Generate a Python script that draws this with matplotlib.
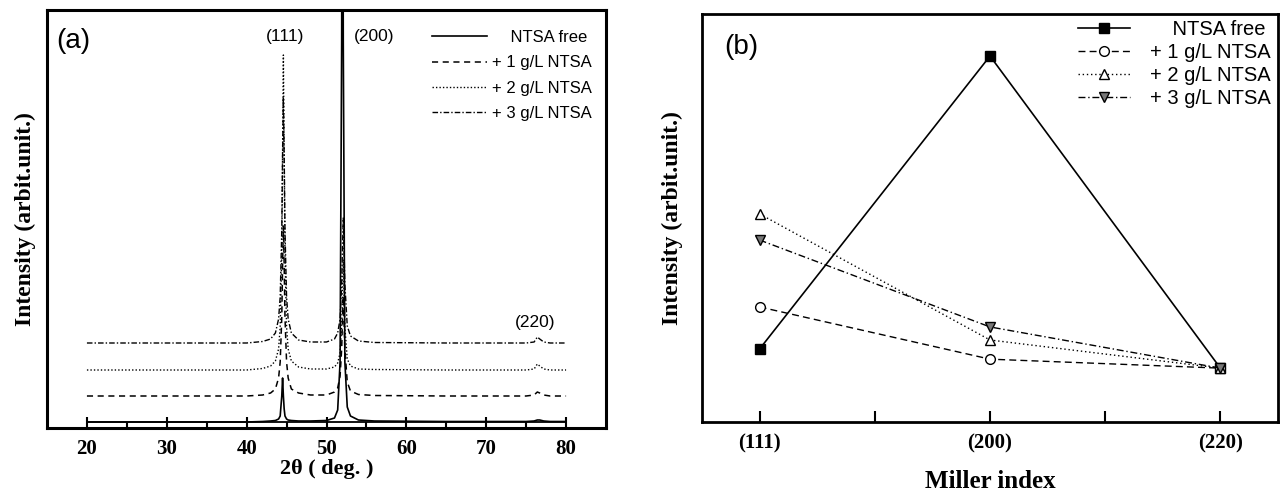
import matplotlib
matplotlib.use("Agg")
import matplotlib.pyplot as plt

# ---------------- data ----------------
two_theta = [20, 30, 40, 42, 43, 43.6, 44.0, 44.2, 44.4, 44.5, 44.6, 44.7, 44.8, 45.0,
             45.2, 45.6, 46.5, 48, 50, 51.0, 51.4, 51.7, 51.9, 52.0, 52.1, 52.3, 52.6,
             53.0, 54, 56, 65, 75, 76.0, 76.4, 76.7, 77.2, 78, 80]

int_free = [0, 0, 0, 0.5, 1, 1.5, 3, 6, 26, 44, 26, 13, 6, 3,
            2, 1.5, 1, 1, 1.5, 4, 12, 60, 380, 800, 380, 60, 15,
            6, 2, 1, 0.5, 0.5, 1, 2, 2, 1, 0.5, 0.5]

int_1g = [26, 26, 26, 27, 29, 33, 44, 60, 105, 156, 196, 156, 105, 60,
          44, 33, 29, 27, 27, 30, 34, 46, 73, 102, 126, 73, 40,
          31, 27.5, 26.5, 26, 26, 27, 30, 29, 27, 26, 26]

int_2g = [52, 52, 52, 53.5, 56, 61, 73, 95, 168, 270, 367, 270, 168, 95,
          73, 61, 55, 53, 53, 55, 59, 69, 95, 128, 162, 95, 63,
          56, 53, 52.5, 52, 52, 53, 58, 56, 53, 52, 52]

int_3g = [79, 79, 79, 80.5, 83, 89, 103, 125, 192, 267, 325, 267, 192, 125,
          103, 89, 82, 80, 80, 83, 89, 103, 138, 174, 204, 138, 96,
          86, 81, 79.5, 79, 79, 80, 85, 83, 80, 79, 79]

series_labels = ["NTSA free", "+ 1 g/L NTSA", "+ 2 g/L NTSA", "+ 3 g/L NTSA"]

peak_labels = ["(111)", "(200)", "(220)"]
peak_label_x = [44.75, 56.0, 76.1]
peak_label_y = [386, 386, 100]

miller = ["(111)", "(200)", "(220)"]
b_free = [17.9, 89.7, 13.2]
b_1g = [28.2, 15.4, 13.2]
b_2g = [51.0, 20.1, 13.2]
b_3g = [44.6, 23.3, 13.2]

# ---------------- figure ----------------
plt.rcParams['font.family'] = ['Liberation Sans', 'DejaVu Sans']
fig = plt.figure(figsize=(12.83, 4.96), dpi=100)

serif_bold = dict(family=['Liberation Serif', 'DejaVu Serif'], weight='bold')

# ----- panel (a) -----
rect_a = [47 / 1283, 1 - 428 / 496, (606 - 47) / 1283, (428 - 10) / 496]
frame = fig.add_axes(rect_a)
frame.set_xticks([])
frame.set_yticks([])
for s in frame.spines.values():
    s.set_linewidth(2.2)

ax = fig.add_axes(rect_a)
ax.patch.set_visible(False)
for k in ['top', 'left', 'right']:
    ax.spines[k].set_visible(False)
ax.spines['bottom'].set_position(('data', 0))
ax.spines['bottom'].set_bounds(20, 80)
ax.spines['bottom'].set_linewidth(1.3)

ax.plot(two_theta, int_free, color='black', lw=1.2, ls='-', label=series_labels[0])
ax.plot(two_theta, int_1g, color='black', lw=1.1, ls=(0, (4, 3)), label=series_labels[1])
ax.plot(two_theta, int_2g, color='black', lw=1.0, ls=(0, (1, 1.5)), label=series_labels[2])
ax.plot(two_theta, int_3g, color='black', lw=1.0, ls=(0, (4, 1.5, 1, 1.5)), label=series_labels[3])

ax.set_xlim(15, 85)
ax.set_ylim(-6, 412)
ax.set_yticks([])
ax.set_xticks(range(20, 81, 10))
ax.set_xticks(range(25, 80, 10), minor=True)
ax.tick_params(axis='x', which='major', direction='inout', length=7, width=1.5, pad=9)
ax.tick_params(axis='x', which='minor', direction='out', length=4, width=1.5)
for lab in ax.get_xticklabels():
    lab.set_fontfamily(['Liberation Serif', 'DejaVu Serif'])
    lab.set_fontweight('bold')
    lab.set_fontsize(15)

for t, x, y in zip(peak_labels, peak_label_x, peak_label_y):
    ax.text(x, y, t, ha='center', va='center', fontsize=12.5)

ax.text(0.017, 0.925, "(a)", transform=ax.transAxes, fontsize=20, ha='left', va='center')

frame.set_ylabel("Intensity (arbit.unit.)", fontsize=17, labelpad=8, **serif_bold)
ax.set_xlabel("2\u03b8 ( deg. )", fontsize=16, labelpad=0, **serif_bold)

handles, labels = ax.get_legend_handles_labels()
labels_a = ["    " + labels[0]] + labels[1:]
ax.legend(handles, labels_a, loc='upper right', bbox_to_anchor=(0.975, 0.952),
          frameon=False, fontsize=12, handlelength=3.3, handletextpad=0.3,
          labelspacing=0.62, borderpad=0, borderaxespad=0)

# ----- panel (b) -----
rect_b = [702 / 1283, 1 - 422 / 496, (1278 - 702) / 1283, (422 - 14) / 496]
bx = fig.add_axes(rect_b)
for s in bx.spines.values():
    s.set_linewidth(2.0)

xpos = list(range(len(miller)))
bx.plot(xpos, b_free, color='black', lw=1.2, ls='-', marker='s', ms=7,
        mfc='black', mec='black', label=series_labels[0])
bx.plot(xpos, b_1g, color='black', lw=1.0, ls=(0, (5, 3)), marker='o', ms=7,
        mfc='white', mec='black', label=series_labels[1])
bx.plot(xpos, b_2g, color='black', lw=1.0, ls=(0, (1, 2)), marker='^', ms=7,
        mfc='white', mec='black', label=series_labels[2])
bx.plot(xpos, b_3g, color='black', lw=1.0, ls=(0, (5, 2, 1, 2)), marker='v', ms=7,
        mfc='#777777', mec='black', label=series_labels[3])

bx.set_xlim(-0.25, 2.25)
bx.set_ylim(0, 100)
bx.set_yticks([])
bx.set_xticks(xpos)
bx.set_xticklabels(miller)
bx.set_xticks([0.5, 1.5], minor=True)
bx.tick_params(axis='x', which='both', direction='in', length=8, width=1.5, pad=8)
for lab in bx.get_xticklabels():
    lab.set_fontfamily(['Liberation Serif', 'DejaVu Serif'])
    lab.set_fontweight('bold')
    lab.set_fontsize(15)

bx.set_ylabel("Intensity (arbit.unit.)", fontsize=17, labelpad=14, **serif_bold)
bx.set_xlabel("Miller index", fontsize=18, labelpad=12, **serif_bold)
bx.text(0.038, 0.92, "(b)", transform=bx.transAxes, fontsize=20, ha='left', va='center')

handles_b, labels_b = bx.get_legend_handles_labels()
labels_b = ["    " + labels_b[0]] + labels_b[1:]
bx.legend(handles_b, labels_b, loc='upper right', bbox_to_anchor=(0.988, 0.985),
          frameon=False, fontsize=14.5, handlelength=2.6, handletextpad=1.0,
          labelspacing=0.2, borderpad=0, borderaxespad=0)

fig.savefig("out.png", dpi=100)
